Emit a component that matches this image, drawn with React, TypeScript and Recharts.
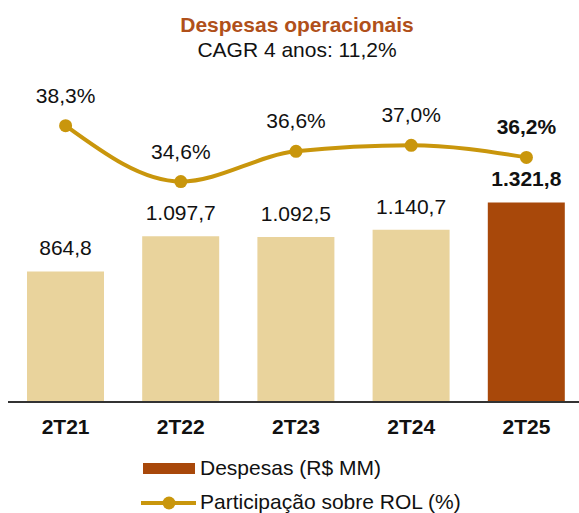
import React from 'react';
import { ComposedChart, Bar, Line, XAxis, YAxis, Cell, LabelList, Legend } from 'recharts';

const categories = ['2T21', '2T22', '2T23', '2T24', '2T25'];
const despesas = [864.8, 1097.7, 1092.5, 1140.7, 1321.8];
const participacao = [38.3, 34.6, 36.6, 37.0, 36.2];
const titleText = 'Despesas operacionais';
const subtitleText = 'CAGR 4 anos: 11,2%';
const barLegend = 'Despesas (R$ MM)';
const lineLegend = 'Participação sobre ROL (%)';

const data = categories.map((c, i) => ({ cat: c, desp: despesas[i], part: participacao[i] }));

const FONT = '"Liberation Sans", Arial, sans-serif';
const LIGHT = '#E9D39C';
const DARK = '#A8480A';
const GOLD = '#C9960C';
const TITLE = '#B0501A';

function fmtBR(v: number, dec = 1): string {
  const s = v.toFixed(dec);
  const [ip, dp] = s.split('.');
  const withDots = ip.replace(/\B(?=(\d{3})+(?!\d))/g, '.');
  return dp ? `${withDots},${dp}` : withDots;
}

const BarLabel = (props: any) => {
  const { x, y, width, index, value } = props;
  const last = index === data.length - 1;
  return (
    <text x={x + width / 2} y={y - 16} textAnchor="middle" fontSize={21} fontFamily={FONT}
      fontWeight={last ? 'bold' : 'normal'} fill="#111">
      {fmtBR(value)}
    </text>
  );
};

const LineLabel = (props: any) => {
  const { x, y, index, value } = props;
  const last = index === data.length - 1;
  return (
    <text x={x} y={y - 23} textAnchor="middle" fontSize={21} fontFamily={FONT}
      fontWeight={last ? 'bold' : 'normal'} fill="#111">
      {fmtBR(value) + '%'}
    </text>
  );
};

const LegendContent = () => (
  <svg width={584} height={63} style={{ display: 'block' }}>
    <rect x={143} y={13} width={52} height={11} fill={DARK} />
    <text x={200} y={25} fontSize={21} fontFamily={FONT} fill="#111">{barLegend}</text>
    <line x1={141} y1={53} x2={196} y2={53} stroke={GOLD} strokeWidth={4} />
    <circle cx={169} cy={53} r={6.5} fill={GOLD} />
    <text x={200} y={59} fontSize={21} fontFamily={FONT} fill="#111">{lineLegend}</text>
  </svg>
);

export default function App() {
  return (
    <div style={{ position: 'absolute', left: 0, top: 0, width: 579, height: 513, overflow: 'hidden', background: '#fff' }}>
      <div style={{ position: 'absolute', left: 0, top: 14, width: 594, textAlign: 'center', fontFamily: FONT, fontSize: 21, lineHeight: '21px', fontWeight: 'bold', color: TITLE }}>
        {titleText}
      </div>
      <div style={{ position: 'absolute', left: 0, top: 39, width: 594, textAlign: 'center', fontFamily: FONT, fontSize: 21, lineHeight: '21px', color: '#111' }}>
        {subtitleText}
      </div>
      <ComposedChart width={584} height={513} data={data}
        margin={{ top: 100, right: 0, left: 8, bottom: 18 }}
        style={{ position: 'absolute', left: 0, top: 0 }}>
        <XAxis dataKey="cat" height={30} tickLine={false} tickSize={0} tickMargin={17}
          axisLine={{ stroke: '#333', strokeWidth: 2 }}
          tick={{ fontSize: 21, fontWeight: 'bold', fill: '#111', fontFamily: FONT }} interval={0} />
        <YAxis yAxisId="bar" domain={[0, 2000]} hide />
        <YAxis yAxisId="pct" domain={[20, 40]} hide />
        <Legend verticalAlign="bottom" content={LegendContent as any}
          wrapperStyle={{ top: 450, left: 0, bottom: 'auto', width: 584, height: 63 }} />
        <Bar yAxisId="bar" dataKey="desp" barSize={77} isAnimationActive={false} legendType="rect">
          {data.map((d, i) => (
            <Cell key={d.cat} fill={i === data.length - 1 ? DARK : LIGHT} />
          ))}
          <LabelList dataKey="desp" content={BarLabel} />
        </Bar>
        <Line yAxisId="pct" type="monotone" dataKey="part" stroke={GOLD} strokeWidth={4}
          dot={{ r: 6.5, fill: GOLD, stroke: GOLD, strokeWidth: 0 }} activeDot={false}
          isAnimationActive={false}>
          <LabelList dataKey="part" content={LineLabel} />
        </Line>
      </ComposedChart>
    </div>
  );
}
